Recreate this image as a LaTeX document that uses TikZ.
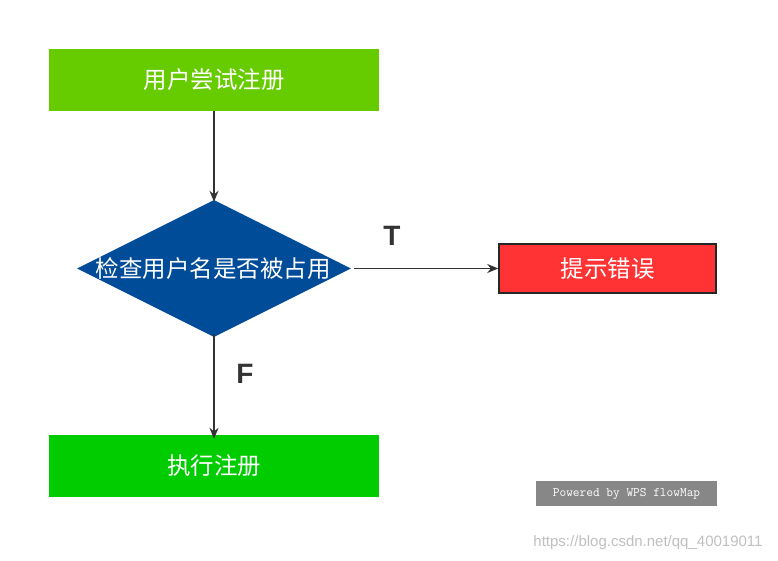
\documentclass[tikz,border=0pt]{standalone}
\usepackage{fontspec}
\setmainfont{Liberation Sans}
\newfontfamily\cjk{Noto Sans CJK SC}
\usetikzlibrary{shapes.geometric,arrows.meta}
\definecolor{ga}{HTML}{66CC00}
\definecolor{gb}{HTML}{00CC00}
\definecolor{rb}{HTML}{FF3333}
\definecolor{db}{HTML}{004C99}
\begin{document}
\begin{tikzpicture}[x=1pt,y=-1pt,
  box/.style={minimum width=330pt,minimum height=62pt,inner sep=0,text=white,font=\cjk\fontsize{23.5}{27}\selectfont},
  conn/.style={draw=black!80,line width=1.6pt,-{Stealth[length=11pt,width=9pt]}}]
\useasboundingbox (0,0) rectangle (778,561);
\node[box,fill=ga] (a) at (214,80) {用户尝试注册};
\node[draw=none,fill=db,diamond,aspect=2,minimum width=274pt,minimum height=137pt,inner sep=0] (b) at (214,268.5) {};
\node[text=white,font=\cjk\fontsize{23.5}{27}\selectfont] (bt) at (213,268.5) {检查用户名是否被占用};
\node[box,fill=gb] (c) at (214,466) {执行注册};
\node[box,fill=rb,draw=black!85,line width=1.5pt,minimum width=217pt,minimum height=49pt] (d) at (607.5,268.5) {提示错误};
\draw[conn] (a.south) -- ([yshift=-2pt]b.north);
\draw[conn] ([xshift=3pt]b.east) -- (d.west);
\draw[conn] ([yshift=3pt]b.south) -- ([yshift=-4pt]c.north);
\node[font=\bfseries\fontsize{28}{32}\selectfont,text=black!80] (t) at (392,236) {T};
\node[font=\bfseries\fontsize{28}{32}\selectfont,text=black!80] (f) at (245,374) {F};
\node[fill=black!47,text=white,font=\ttfamily\fontsize{13}{15}\selectfont,minimum width=181pt,minimum height=25pt,inner sep=0] (w) at (626.5,493.5) {Powered by WPS flowMap};
\node[text=black!25,font=\fontsize{15}{17}\selectfont] (u) at (648,543) {https://blog.csdn.net/qq\_40019011};
\end{tikzpicture}
\end{document}
